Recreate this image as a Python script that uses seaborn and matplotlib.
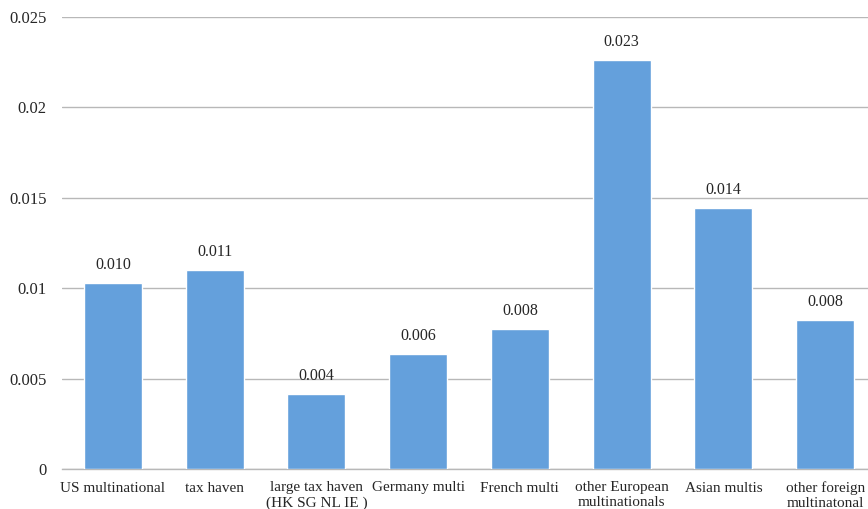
import matplotlib
matplotlib.use("Agg")
import matplotlib.pyplot as plt
import seaborn as sns
import pandas as pd

categories = [
    "US multinational",
    "tax haven",
    "large tax haven\n(HK SG NL IE )",
    "Germany multi",
    "French multi",
    "other European\nmultinationals",
    "Asian multis",
    "other foreign\nmultinatonal",
]
values = [0.0103, 0.0110, 0.00415, 0.00636, 0.00774, 0.02262, 0.01444, 0.00824]
y_ticks = [0, 0.005, 0.01, 0.015, 0.02, 0.025]
y_tick_labels = ["0", "0.005", "0.01", "0.015", "0.02", "0.025"]

sns.set_style("white")
plt.rcParams["font.family"] = ["Liberation Serif", "DejaVu Serif"]

df = pd.DataFrame({"category": categories, "value": values})

fig = plt.figure(figsize=(8.68, 5.09), dpi=100)
ax = fig.add_axes([62 / 868, 1 - 469 / 509, (876 - 62) / 868, (469 - 17) / 509])

sns.barplot(data=df, x="category", y="value", color="#64A0DC", saturation=1,
            width=0.57, ax=ax, zorder=3)

ax.set_xlim(-0.5, len(categories) - 0.5)
ax.set_ylim(0, 0.025)
ax.set_yticks(y_ticks)
ax.set_yticklabels(y_tick_labels)
ax.yaxis.grid(True, color="#B8B8B8", linewidth=1.0, zorder=0)
ax.set_axisbelow(True)
for side in ["top", "right", "left"]:
    ax.spines[side].set_visible(False)
ax.spines["bottom"].set_color("#B8B8B8")
ax.spines["bottom"].set_linewidth(1.0)
ax.set_xlabel("")
ax.set_ylabel("")
ax.tick_params(axis="y", length=0, pad=11, labelsize=12)
ax.tick_params(axis="x", length=0, pad=9, labelsize=11)
for lbl in ax.get_xticklabels():
    lbl.set_multialignment("center")
    lbl.set_linespacing(1.15)

for i, v in enumerate(values):
    ax.annotate(f"{v:.3f}", (i, v), xytext=(0, 7), textcoords="offset points",
                ha="center", va="bottom", fontsize=11.5)

fig.savefig("out.png", dpi=100)
